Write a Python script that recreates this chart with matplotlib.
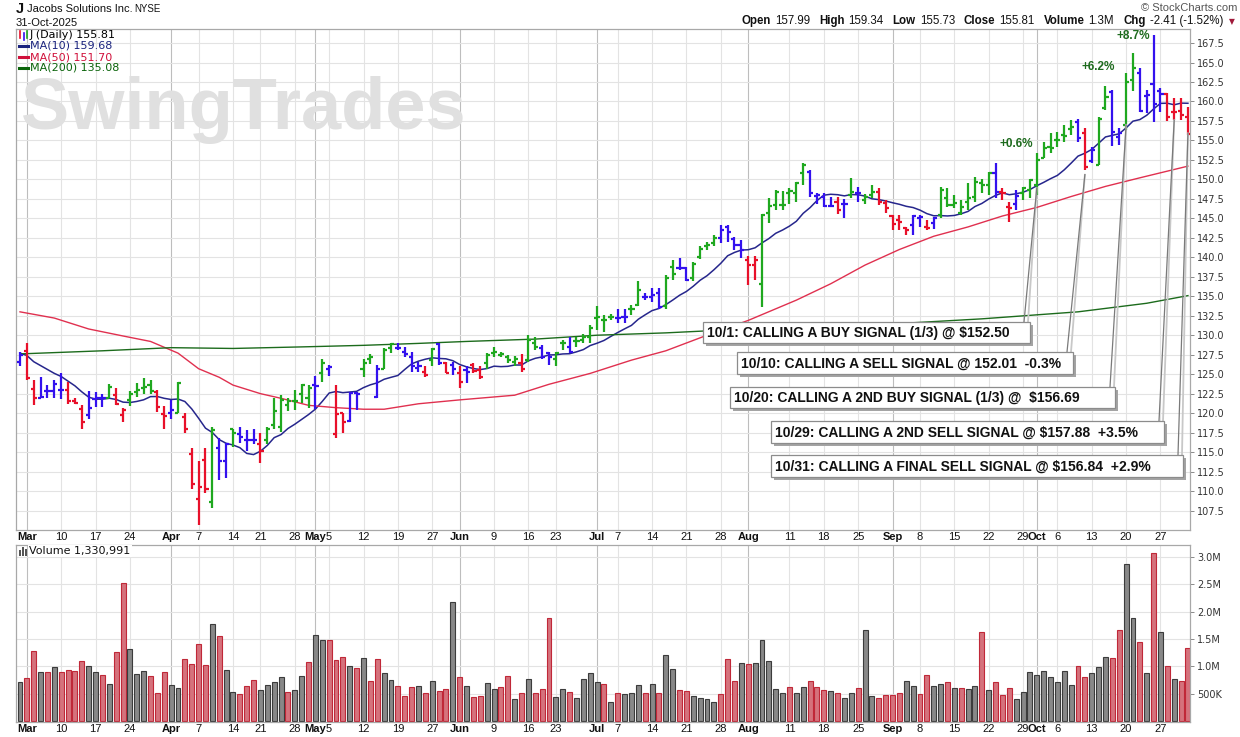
import numpy as np
import pandas as pd
import matplotlib
matplotlib.use("Agg")
import matplotlib.pyplot as plt
from matplotlib.patches import Rectangle
from matplotlib.lines import Line2D
from matplotlib.transforms import Affine2D

# ---------------- data ----------------
first_day = "2025-02-28"
last_day = "2025-10-31"
market_holidays = ["2025-04-18", "2025-05-26", "2025-06-19", "2025-07-04", "2025-09-01"]

opens = [126.5, 128.0, 123.1, 122.0, 122.8, 122.8, 123.0, 123.0, 121.6, 120.5,
         119.8, 121.8, 121.9, 122.0, 122.3, 119.8, 121.7, 122.7, 123.2, 123.6,
         122.7, 119.9, 120.0, 120.0, 119.5, 114.8, 109.0, 114.0, 108.6, 115.5,
         113.8, 117.9, 117.3, 116.5, 116.6, 116.1, 116.5, 118.5, 118.25, 121.0,
         121.6, 122.5, 122.0, 123.6, 125.2, 125.65, 117.3, 120.0, 119.0, 122.6,
         125.7, 127.0, 122.1, 125.7, 128.3, 128.3, 127.8, 127.2, 125.8, 125.3,
         126.8, 128.9, 126.4, 126.2, 125.2, 125.5, 126.2, 125.5, 126.4, 127.7,
         127.5, 127.2, 126.5, 126.4, 126.8, 128.95, 128.3, 127.7, 127.0, 128.95,
         128.5, 129.2, 129.4, 129.8, 132.2, 132.0, 132.4, 132.2, 132.4, 133.4,
         133.9, 134.9, 134.9, 135.45, 133.7, 138.8, 138.6, 138.6, 137.3, 140.0,
         141.4, 141.8, 142.5, 143.9, 142.4, 141.6, 139.6, 139.0, 136.6, 145.7,
         146.7, 146.7, 148.2, 148.2, 150.77, 150.9, 147.9, 147.77, 146.6, 147.13,
         146.9, 148.0, 148.2, 147.34, 147.99, 148.41, 146.92, 145.29, 144.78, 143.71,
         144.13, 144.99, 143.92, 144.35, 145.42, 147.56, 146.7, 145.7, 147.13, 147.77,
         149.48, 149.27, 150.77, 148.4, 146.5, 146.9, 148.3, 148.6, 149.3, 152.78,
         154.2, 155.0, 155.69, 156.5, 157.4, 156.0, 152.4, 151.84, 159.2, 161.2,
         155.5, 157.0, 162.75, 163.7, 160.7, 162.2, 161.3, 160.96, 158.6, 158.8,
         157.99]
highs = [127.9, 128.95, 124.3, 124.6, 123.6, 124.2, 125.2, 124.0, 121.9, 121.0,
         122.8, 122.7, 122.5, 123.7, 123.2, 120.7, 122.8, 123.9, 124.5, 124.2,
         123.0, 120.9, 121.7, 124.0, 120.05, 115.5, 113.8, 115.5, 118.25, 116.75,
         116.2, 118.0, 118.25, 117.8, 117.9, 117.4, 118.2, 121.9, 122.3, 122.0,
         123.0, 123.8, 123.6, 124.75, 126.9, 126.2, 123.6, 120.0, 122.7, 122.7,
         126.9, 127.6, 126.2, 128.3, 129.0, 128.95, 128.5, 127.9, 126.6, 126.0,
         128.4, 129.0, 126.6, 126.5, 126.0, 126.0, 126.4, 126.0, 127.75, 128.5,
         127.9, 127.45, 127.3, 127.6, 130.0, 129.8, 128.7, 127.9, 127.9, 129.4,
         129.8, 129.8, 130.2, 131.3, 133.7, 132.6, 132.7, 133.4, 133.4, 133.9,
         136.9, 135.4, 136.0, 136.1, 137.7, 139.7, 139.9, 138.8, 139.4, 141.5,
         142.0, 142.8, 144.1, 144.1, 142.6, 142.2, 140.15, 140.15, 145.6, 147.6,
         148.6, 148.5, 148.84, 149.7, 152.05, 151.2, 148.2, 148.2, 147.77, 147.77,
         147.43, 150.13, 148.97, 148.11, 149.27, 148.84, 147.34, 145.42, 145.42, 143.92,
         145.42, 145.42, 144.78, 145.12, 148.97, 148.84, 147.99, 147.4, 149.48, 150.34,
         150.0, 150.98, 152.1, 148.84, 147.13, 148.63, 149.06, 150.04, 153.33, 154.83,
         155.9, 156.1, 156.97, 157.6, 157.8, 156.55, 154.2, 157.96, 161.98, 161.47,
         156.55, 163.7, 166.2, 164.25, 161.47, 168.5, 161.7, 161.04, 160.4, 160.4,
         159.34]
lows = [126.0, 124.2, 121.0, 121.9, 121.9, 121.9, 121.8, 121.2, 121.2, 118.0,
        119.2, 120.8, 120.8, 121.9, 121.0, 118.9, 120.9, 122.1, 122.5, 122.5,
        120.2, 118.0, 119.3, 120.0, 117.5, 110.3, 105.7, 109.7, 107.8, 111.4,
        111.7, 115.7, 116.2, 115.2, 116.1, 113.6, 116.0, 117.9, 117.6, 120.3,
        120.4, 121.25, 120.7, 120.5, 124.0, 124.8, 116.75, 117.4, 118.9, 120.4,
        124.7, 126.3, 121.9, 125.7, 127.75, 128.1, 127.2, 125.3, 125.3, 124.7,
        126.0, 126.2, 125.1, 124.9, 123.2, 123.9, 125.1, 124.4, 125.6, 127.2,
        127.2, 126.4, 126.1, 125.3, 126.6, 128.1, 127.0, 126.2, 126.0, 128.1,
        127.7, 128.5, 128.95, 128.95, 130.7, 130.45, 131.9, 131.6, 131.6, 132.6,
        133.7, 134.5, 134.3, 133.4, 133.4, 137.1, 138.4, 136.9, 137.0, 139.8,
        140.9, 141.4, 141.8, 142.0, 140.9, 139.9, 136.4, 137.1, 133.65, 144.35,
        146.1, 146.1, 146.83, 147.13, 149.27, 147.77, 146.83, 146.4, 146.4, 145.55,
        144.99, 147.56, 147.13, 146.83, 147.56, 146.7, 145.72, 143.49, 143.49, 142.85,
        142.85, 143.92, 143.49, 143.58, 144.99, 146.4, 146.27, 145.4, 146.06, 147.13,
        148.2, 147.99, 147.6, 147.35, 144.56, 146.06, 147.35, 147.56, 147.99, 152.7,
        153.33, 154.19, 154.75, 155.69, 154.8, 151.2, 152.1, 151.84, 158.9, 154.28,
        154.4, 156.3, 161.3, 158.7, 158.47, 157.4, 158.7, 157.5, 157.6, 157.6,
        155.73]
closes = [127.5, 124.5, 121.9, 122.1, 122.8, 123.8, 123.0, 121.6, 121.3, 118.8,
          120.7, 121.9, 121.9, 123.3, 121.2, 120.4, 122.5, 123.0, 123.4, 122.9,
          120.8, 119.6, 120.4, 123.9, 118.0, 110.9, 110.5, 110.3, 117.8, 113.8,
          116.1, 117.4, 117.0, 116.5, 116.5, 115.2, 117.95, 120.3, 121.7, 121.6,
          121.6, 123.6, 123.2, 123.5, 126.4, 125.95, 119.9, 118.8, 122.6, 122.4,
          126.4, 127.2, 125.7, 128.1, 128.9, 128.3, 127.6, 126.0, 126.1, 124.9,
          128.2, 126.4, 125.2, 125.7, 124.0, 125.3, 125.4, 124.7, 127.45, 127.9,
          127.6, 126.8, 126.9, 125.7, 129.4, 128.5, 127.2, 127.2, 127.7, 128.95,
          127.9, 129.2, 129.8, 130.9, 132.4, 132.0, 132.4, 132.2, 132.4, 133.4,
          135.8, 134.9, 135.2, 133.6, 137.3, 137.85, 138.6, 137.1, 139.1, 141.1,
          141.6, 142.5, 143.5, 143.3, 141.6, 140.9, 139.0, 139.6, 145.4, 146.6,
          148.4, 146.7, 148.5, 149.5, 151.84, 148.2, 148.0, 146.57, 146.57, 146.06,
          146.9, 148.41, 148.2, 147.77, 148.41, 147.13, 146.27, 144.3, 144.56, 143.49,
          145.29, 145.12, 143.71, 144.99, 148.63, 146.7, 146.92, 146.5, 147.56, 149.7,
          149.27, 150.77, 148.41, 148.2, 146.3, 147.9, 148.9, 149.9, 152.5, 154.0,
          154.0, 155.0, 155.6, 156.76, 155.3, 151.6, 153.8, 157.8, 160.6, 156.1,
          156.0, 162.5, 164.25, 158.8, 160.8, 159.7, 161.0, 158.0, 158.6, 158.22,
          155.81]
# b = blue, r = red, g = green (impulse colouring)
bar_color_codes = ("brrbbbbrrr" "bbbgrrgggg" "rrbgrrrrgb" "bgbbbrgggg" "gggbgbrrbb"
                   "ggbggbbbbr" "gbrbrbrrgg" "gggrggbbgg" "bggggggbbg" "gbbbggbbgg"
                   "ggbbbbrrgg" "gggggbbbbr" "bgbggrrrrr" "bbrbgggggg" "ggbrrbgggg"
                   "ggggbrbggb" "bggbbbbrrr" "r")
volumes_m = [0.715, 0.79, 1.28, 0.90, 0.90, 0.99, 0.90, 0.93, 0.92, 1.10,
             1.01, 0.90, 0.84, 0.68, 1.26, 2.53, 1.32, 0.86, 0.92, 0.82,
             0.52, 0.90, 0.66, 0.61, 1.13, 1.04, 1.41, 1.02, 1.77, 1.55,
             0.93, 0.53, 0.50, 0.64, 0.75, 0.57, 0.66, 0.72, 0.81, 0.53,
             0.57, 0.82, 1.08, 1.57, 1.48, 1.48, 1.12, 1.17, 1.01, 0.97,
             1.15, 0.73, 1.13, 0.88, 0.75, 0.64, 0.46, 0.62, 0.64, 0.52,
             0.73, 0.55, 0.59, 2.17, 0.81, 0.64, 0.44, 0.46, 0.70, 0.59,
             0.62, 0.82, 0.41, 0.52, 0.77, 0.52, 0.59, 1.88, 0.44, 0.59,
             0.53, 0.42, 0.77, 0.88, 0.72, 0.68, 0.35, 0.52, 0.50, 0.52,
             0.66, 0.52, 0.68, 0.52, 1.20, 0.96, 0.57, 0.55, 0.45, 0.43,
             0.41, 0.35, 0.50, 1.14, 0.74, 1.07, 1.05, 1.07, 1.49, 1.09,
             0.59, 0.52, 0.63, 0.52, 0.63, 0.74, 0.63, 0.57, 0.55, 0.52,
             0.43, 0.52, 0.61, 1.67, 0.45, 0.43, 0.48, 0.48, 0.52, 0.74,
             0.65, 0.50, 0.85, 0.65, 0.68, 0.72, 0.61, 0.61, 0.59, 0.65,
             1.63, 0.57, 0.72, 0.48, 0.61, 0.41, 0.54, 0.90, 0.85, 0.92,
             0.81, 0.72, 0.92, 0.66, 1.01, 0.81, 0.88, 0.99, 1.18, 1.16,
             1.67, 2.88, 1.89, 1.45, 0.88, 3.08, 1.63, 1.01, 0.76, 0.74,
             1.33]
# r = down volume (red), k = up volume (grey)
vol_color_codes = ("krrkrkrrrr" "kkrkrrkkkr" "rrkkrrrrkr" "kkrrrkkkkr" "kkrkkrrrkr"
                   "krrkkrrrkr" "krrkrkrrkk" "rrkrkrrrkk" "rkkkkrkrkk" "krkrkkrrkk"
                   "kkrrrkrkkk" "kkrkkrrrkr" "kkrkkrrrrk" "krrkkrkrkk" "rkrrrkkkkk"
                   "kkkkrrkkkr" "rkkrkrkrkr" "r")

ma10_head = [127.7, 127.4, 126.6, 126.1, 125.6, 125.1, 124.7, 124.1, 123.5]
ma50_idx = [0, 5, 10, 15, 19, 23, 26, 29, 31, 35, 38, 42, 46, 50, 53, 58, 64, 72, 77, 83,
            89, 94, 100, 106, 113, 118, 123, 128, 133, 138, 143, 148, 153, 158, 163, 170]
ma50_val = [133.0, 132.2, 130.8, 129.9, 129.2, 127.7, 125.7, 124.6, 123.6, 122.5, 121.9, 121.0,
            120.7, 120.5, 120.5, 121.2, 121.7, 122.3, 123.7, 125.1, 126.8, 128.0, 130.0, 131.9,
            134.5, 136.6, 139.0, 141.0, 142.7, 143.9, 145.3, 146.4, 147.8, 149.1, 150.2, 151.7]
ma200_idx = [0, 12, 22, 31, 41, 50, 58, 65, 75, 84, 94, 101, 114, 128, 140, 154, 164, 170]
ma200_val = [127.6, 128.0, 128.4, 128.3, 128.5, 128.7, 128.95, 129.2, 129.5, 130.0, 130.3,
             130.6, 131.0, 131.5, 132.1, 133.0, 134.1, 135.08]

price_ticks = [107.5 + 2.5 * k for k in range(25)]
vol_ticks = [0.5, 1.0, 1.5, 2.0, 2.5, 3.0]
vol_tick_labels = ["500K", "1.0M", "1.5M", "2.0M", "2.5M", "3.0M"]

header_pieces = [("Open", "157.99"), ("High", "159.34"), ("Low", "155.73"),
                 ("Close", "155.81"), ("Volume", "1.3M"), ("Chg", "-2.41 (-1.52%)")]
legend_rows = [("J (Daily) 155.81", "#000000"), ("MA(10) 159.68", "#1a237e"),
               ("MA(50) 151.70", "#d0103a"), ("MA(200) 135.08", "#0a640a")]
volume_legend = "Volume 1,330,991"

signal_texts = ["10/1: CALLING A BUY SIGNAL (1/3) @ $152.50",
                "10/10: CALLING A SELL SIGNAL @ 152.01  -0.3%",
                "10/20: CALLING A 2ND BUY SIGNAL (1/3) @  $156.69",
                "10/29: CALLING A 2ND SELL SIGNAL @ $157.88  +3.5%",
                "10/31: CALLING A FINAL SELL SIGNAL @ $156.84  +2.9%"]
signal_dates = ["2025-10-01", "2025-10-10", "2025-10-20", "2025-10-29", "2025-10-31"]
signal_prices = [148.9, 150.6, 157.0, 157.6, 155.9]

gain_texts = ["+0.6%", "+6.2%", "+8.7%"]
gain_dates = ["2025-09-26", "2025-10-14", "2025-10-21"]
gain_prices = [154.5, 164.4, 168.4]

# ---------------- derived ----------------
dates = pd.bdate_range(first_day, last_day)
dates = dates[~dates.isin(pd.to_datetime(market_holidays))]
n = len(dates)
x = np.arange(n)
date_index = {d.strftime("%Y-%m-%d"): i for i, d in enumerate(dates)}

ma10 = pd.Series(closes).rolling(10).mean().to_numpy()
ma10[:9] = ma10_head

month_pos = [i for i in range(1, n) if dates[i].month != dates[i - 1].month]
week_pos = [i for i in range(1, n)
            if dates[i].isocalendar()[1] != dates[i - 1].isocalendar()[1]]
date_labels = [(i, dates[i].strftime("%b"), True) for i in month_pos]
for i in week_pos:
    if i in month_pos or (i + 1) in month_pos or (i - 1) in month_pos:
        continue
    date_labels.append((i, str(dates[i].day), False))
date_labels.sort()

# ---------------- figure ----------------
W, H = 1240, 737
fig = plt.figure(figsize=(W / 100, H / 100), dpi=100)
fig.patch.set_facecolor("white")
pix = Affine2D().scale(1.0 / W, -1.0 / H).translate(0, 1) + fig.transFigure

L, R = 16, 1190
PT, PB = 29, 530
VT, VB = 545, 721.7
ax = fig.add_axes([L / W, 1 - PB / H, (R - L) / W, (PB - PT) / H])
axv = fig.add_axes([L / W, 1 - VB / H, (R - L) / W, (VB - VT) / H])

for a in (ax, axv):
    a.set_xlim(-0.58, 170.3)
    a.set_facecolor("white")
    for s in a.spines.values():
        s.set_color("#a8a8a8")
        s.set_linewidth(0.9)
    a.yaxis.tick_right()
    a.tick_params(axis="y", length=3, width=0.7, color="#8a8a8a",
                  labelsize=7, labelcolor="#333333", pad=2)
    a.tick_params(axis="x", length=0, pad=1.5)
    for i, lab, is_month in date_labels:
        a.axvline(i, color="#bdbdbd" if is_month else "#e3e3e3", lw=0.8, zorder=0)
    a.set_xticks([d[0] for d in date_labels])
    a.set_xticklabels([d[1] for d in date_labels])
    for t, d in zip(a.get_xticklabels(), date_labels):
        t.set_fontfamily("Liberation Sans")
        t.set_fontsize(8)
        t.set_color("#111111")
        t.set_fontweight("bold" if d[2] else "normal")

ax.set_ylim(105.0, 169.3)
ax.set_yticks(price_ticks)
ax.set_yticklabels([f"{p:.1f}" for p in price_ticks])
for p in price_ticks:
    ax.axhline(p, color="#e3e3e3", lw=0.8, zorder=0)

axv.set_ylim(-0.012, 3.22)
axv.set_yticks(vol_ticks)
axv.set_yticklabels(vol_tick_labels)
for v in vol_ticks:
    axv.axhline(v, color="#e3e3e3", lw=0.8, zorder=0)

# watermark
ax.text(21, 129, "SwingTrades", transform=pix, fontsize=52, fontweight="bold",
        family="Liberation Sans", color="#e0e0e0", va="baseline", ha="left", zorder=1)

# moving averages
ax.plot(x, ma10, color="#26268c", lw=1.1, zorder=2)
ax.plot(ma50_idx, ma50_val, color="#e0304f", lw=1.0, zorder=2)
ax.plot(ma200_idx, ma200_val, color="#1c6b1c", lw=1.0, zorder=2)

# OHLC bars
price_colors = {"r": "#e8102a", "g": "#1fa81f", "b": "#3311ee"}
col = [price_colors[c] for c in bar_color_codes]
ax.vlines(x, lows, highs, colors=col, lw=1.6, zorder=3, capstyle="butt")
ax.hlines(opens, x - 0.45, x, colors=col, lw=1.6, zorder=3, capstyle="butt")
ax.hlines(closes, x, x + 0.45, colors=col, lw=1.6, zorder=3, capstyle="butt")

# volume
vol_face = {"r": "#d5727c", "k": "#888888"}
vol_edge = {"r": "#c02838", "k": "#3c3c3c"}
axv.bar(x, volumes_m, width=0.72, color=[vol_face[c] for c in vol_color_codes],
        edgecolor=[vol_edge[c] for c in vol_color_codes], lw=0.8, zorder=2)

# gain labels
for s, d, p in zip(gain_texts, gain_dates, gain_prices):
    ax.text(date_index[d], p, s, ha="center", va="center", color="#1e6b1e",
            fontsize=8.5, fontweight="bold", family="Liberation Sans", zorder=6)

# legends
ytxt = [35, 46, 57, 68]
for (s, c), yy in zip(legend_rows, ytxt):
    fig.text(30, yy, s, transform=pix, fontsize=8, color=c, va="center", ha="left",
             family="DejaVu Sans", zorder=6)
for c, yy in zip(["#1a237e", "#d0103a", "#0a640a"], ytxt[1:]):
    fig.add_artist(Line2D([19, 28], [yy, yy], transform=pix, color=c, lw=2.2, zorder=6))
for xx, c, y0, y1 in [(20, "#e8102a", 31, 38), (23.5, "#3311ee", 33, 40), (27, "#1fa81f", 31, 38)]:
    fig.add_artist(Line2D([xx, xx], [y0, y1], transform=pix, color=c, lw=1.2, zorder=6))

fig.text(29, 551, volume_legend, transform=pix, fontsize=8, color="#111111", va="center",
         ha="left", family="DejaVu Sans", zorder=6,
         bbox=dict(fc="white", ec="none", pad=1.0))
for xx, hh in [(19.5, 6), (22.5, 9), (25.5, 7)]:
    fig.add_artist(Rectangle((xx - 1, 556 - hh), 2, hh, transform=pix, fc="#555555",
                             ec="none", zorder=6))

# header
fig.text(16, 9, "J", transform=pix, fontsize=10.5, fontweight="bold", family="Liberation Sans",
         va="center", ha="left", color="#111111")
fig.text(27, 9, "Jacobs Solutions Inc.", transform=pix, fontsize=8, family="Liberation Sans",
         va="center", ha="left", color="#111111")
fig.text(134, 9.5, "NYSE", transform=pix, fontsize=7, family="Liberation Sans",
         va="center", ha="left", color="#111111")
fig.text(16, 23, "31-Oct-2025", transform=pix, fontsize=8, family="Liberation Sans",
         va="center", ha="left", color="#111111")
fig.text(1237, 8, "\u00a9 StockCharts.com", transform=pix, fontsize=8, family="Liberation Sans",
         va="center", ha="right", color="#555555")

renderer = fig.canvas.get_renderer()
arts = []
for lab, val in header_pieces:
    t1 = fig.text(0, 21, lab, transform=pix, fontsize=8.3, fontweight="bold",
                  family="Liberation Sans", va="center", ha="left", color="#111111")
    t2 = fig.text(0, 21, val, transform=pix, fontsize=8.3, family="Liberation Sans",
                  va="center", ha="left", color="#111111")
    arts.append((t1, t1.get_window_extent(renderer).width, 4))
    arts.append((t2, t2.get_window_extent(renderer).width, 9))
total = sum(w + g for _, w, g in arts) - arts[-1][2]
xcur = 1223 - total
for t, w, g in arts:
    t.set_position((xcur, 21))
    xcur += w + g
fig.text(1232, 21.5, "\u25bc", transform=pix, fontsize=5.5, family="DejaVu Sans",
         va="center", ha="center", color="#a01a3a")

# signal boxes with connectors
boxes = [(703, 322, 1030, 343, 1024), (737, 352, 1073, 374, 1067), (730, 387, 1115, 408, 1110),
         (771, 421, 1164, 443, 1159), (771, 455, 1183, 477, 1178)]
inv_pix = pix.inverted()
for (x0, y0, x1, y1, bx), s, d, p in zip(boxes, signal_texts, signal_dates, signal_prices):
    tx, ty = inv_pix.transform(ax.transData.transform((date_index[d], p)))
    fig.add_artist(Line2D([bx + 4, tx], [y0, ty], transform=pix, color="#c8c8c8", lw=1.3, zorder=4))
    fig.add_artist(Line2D([bx, tx], [y0, ty], transform=pix, color="#7a7a7a", lw=0.9, zorder=4.1))
    fig.add_artist(Rectangle((x0 + 3, y0 + 3), x1 - x0, y1 - y0, transform=pix, fc="#a4a4a4",
                             ec="none", zorder=4.5))
    fig.add_artist(Rectangle((x0, y0), x1 - x0, y1 - y0, transform=pix, fc="white",
                             ec="#8c8c8c", lw=0.9, zorder=4.6))
    fig.text(x0 + 4, (y0 + y1) / 2 + 0.5, s, transform=pix, fontsize=10, fontweight="bold",
             family="Liberation Sans", va="center", ha="left", color="#111111", zorder=4.7)

fig.savefig("out.png", dpi=100)
